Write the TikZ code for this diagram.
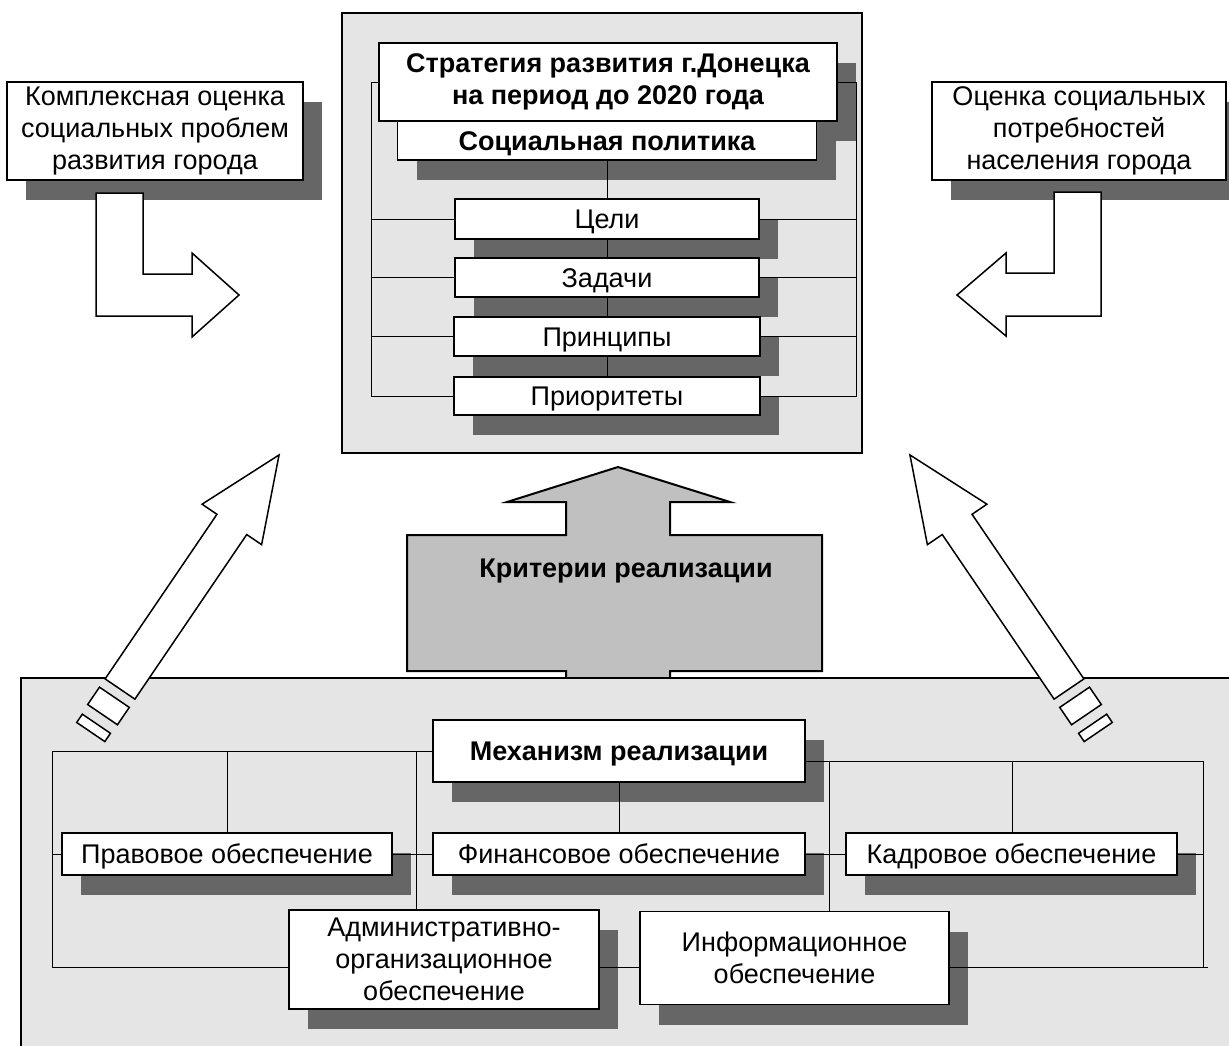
\documentclass[tikz,border=0pt]{standalone}
\usepackage{fontspec}
\setmainfont{Liberation Sans}
\usetikzlibrary{shadows}
\definecolor{panel}{HTML}{E5E5E5}
\definecolor{shade}{HTML}{666666}
\definecolor{crit}{HTML}{C0C0C0}
\tikzstyle{blk} = [rectangle, draw=black, line width=1.5pt, fill=white, align=center, inner sep=0pt, font=\fontsize{27}{32}\selectfont, drop shadow={shadow xshift=19pt, shadow yshift=-20pt, fill=shade, opacity=1}]
\tikzstyle{hdr} = [blk, font=\fontsize{27}{32}\selectfont\bfseries]
\tikzstyle{one} = [text height=19.5pt, text depth=0pt]
\tikzstyle{ln} = [line width=0.9pt]
\tikzstyle{fat} = [draw=black, line width=1.5pt, fill=white]

\begin{document}
\begin{tikzpicture}[x=1pt,y=-1pt]
			\useasboundingbox (0,0) rectangle (1229,1045);
			\clip (0,0) rectangle (1229,1045);
			% strategy panel
			\draw[fill=panel, line width=1.2pt] (342,13) rectangle (862,453);
			\node[hdr, minimum width=458pt, minimum height=78pt](strat) at (608,82) {Стратегия развития г.Донецка\\на период до 2020 года};
			\node[hdr, one, minimum width=419pt, minimum height=39pt](soc) at (607,140.5) {Социальная политика};
			\node[blk, one, minimum width=304pt, minimum height=40pt](goal) at (607,219) {Цели};
			\node[blk, one, minimum width=304pt, minimum height=39pt](task) at (607,277.5) {Задачи};
			\node[blk, one, minimum width=306pt, minimum height=39pt](princ) at (607,336.5) {Принципы};
			\node[blk, one, minimum width=306pt, minimum height=38pt](prio) at (607,396) {Приоритеты};
			\coordinate (tl) at (371,82);
			\coordinate (bl) at (371,396);
			\coordinate (tr) at (856,82);
			\coordinate (br) at (856,396);
			\draw[ln] (strat.west)--(tl)--(bl)--(prio.west);
			\draw[ln] (strat.east)--(tr)--(br)--(prio.east);
			\foreach \n in {goal,task,princ}
				\draw[ln] (\n.west)--(\n.west -| tl) (\n.east)--(\n.east -| tr);
			\draw[ln] (soc.south)--(goal.north) (goal.south)--(task.north) (task.south)--(princ.north) (princ.south)--(prio.north);
			% side boxes
			\node[blk, minimum width=296pt, minimum height=98pt](left) at (155,131) {Комплексная оценка\\социальных проблем\\развития города};
			\node[blk, minimum width=294pt, minimum height=98pt](right) at (1079,131) {Оценка социальных\\потребностей\\населения города};
			\draw[fat] (96,193)--(143,193)--(143,274)--(192,274)--(192,253)--(239,295)--(192,337)--(192,316)--(96,316)--cycle;
			\draw[fat] (1101,192)--(1054,192)--(1054,273)--(1006,273)--(1006,253)--(957,295)--(1006,336)--(1006,316)--(1101,316)--cycle;
			% criteria arrow
			\draw[fill=crit, line width=2pt] (566,690)--(566,671)--(407,671)--(407,535)--(566,535)--(566,502)--(507,502)--(618,467)--(730,502)--(670,502)--(670,535)--(822,535)--(822,671)--(670,671)--(670,690)--cycle;
			\node[font=\fontsize{27}{32}\selectfont\bfseries, one](crit) at (626,568) {Критерии реализации};
			% mechanism panel
			\draw[fill=panel, line width=1.2pt] (21,678) rectangle (1260,1080);
			\foreach \px/\py/\ang in {120/689/55.8, 1069/689/124.2} {
				\begin{scope}[shift={(\px,\py)}, rotate=\ang]
					\draw[fat] (0,-18)--(199,-18)--(199,-36)--(283,0)--(199,36)--(199,18)--(0,18)--cycle;
					\draw[fat] (-10,-18) rectangle (-31,18);
					\draw[fat] (-42,-17) rectangle (-52,17);
				\end{scope}
			}
			\node[hdr, one, minimum width=372pt, minimum height=62pt](mech) at (619,751) {Механизм реализации};
			\node[blk, one, minimum width=330pt, minimum height=42pt](prav) at (227,854) {Правовое обеспечение};
			\node[blk, one, minimum width=372pt, minimum height=42pt](fin) at (619,854) {Финансовое обеспечение};
			\node[blk, one, minimum width=331pt, minimum height=42pt](kadr) at (1011.5,854) {Кадровое обеспечение};
			\node[blk, minimum width=310pt, minimum height=99pt](adm) at (444,959.5) {Административно-\\организационное\\обеспечение};
			\node[blk, minimum width=309pt, minimum height=93pt](inf) at (794.5,958) {Информационное\\обеспечение};
			\coordinate (lb1) at (52,751);
			\coordinate (lb2) at (52,967);
			\coordinate (rb1) at (1203,761);
			\coordinate (rb2) at (1203,967);
			\coordinate (rend) at (1208,967);
			\coordinate (v1) at (416,751);
			\coordinate (v2) at (829,761);
			\coordinate (v3) at (1012,761);
			\draw[ln] (mech.west)--(lb1)--(lb2)--(adm.west |- lb2);
			\draw[ln] (mech.east |- rb1)--(rb1)--(rb2);
			\draw[ln] (inf.east |- rb2)--(rend);
			\draw[ln] (prav.north)--(prav.north |- lb1);
			\draw[ln] (v1)--(v1 |- adm.north);
			\draw[ln] (v2)--(v2 |- inf.north);
			\draw[ln] (v3)--(v3 |- kadr.north);
			\draw[ln] (mech.south)--(fin.north);
			\draw[ln] (prav.west)--(prav.west -| lb1);
			\draw[ln] (prav.east)--(fin.west);
			\draw[ln] (fin.east)--(kadr.west);
			\draw[ln] (kadr.east)--(kadr.east -| rb1);
			\draw[ln] (adm.east |- lb2)--(inf.west |- lb2);
		\end{tikzpicture}
\end{document}
